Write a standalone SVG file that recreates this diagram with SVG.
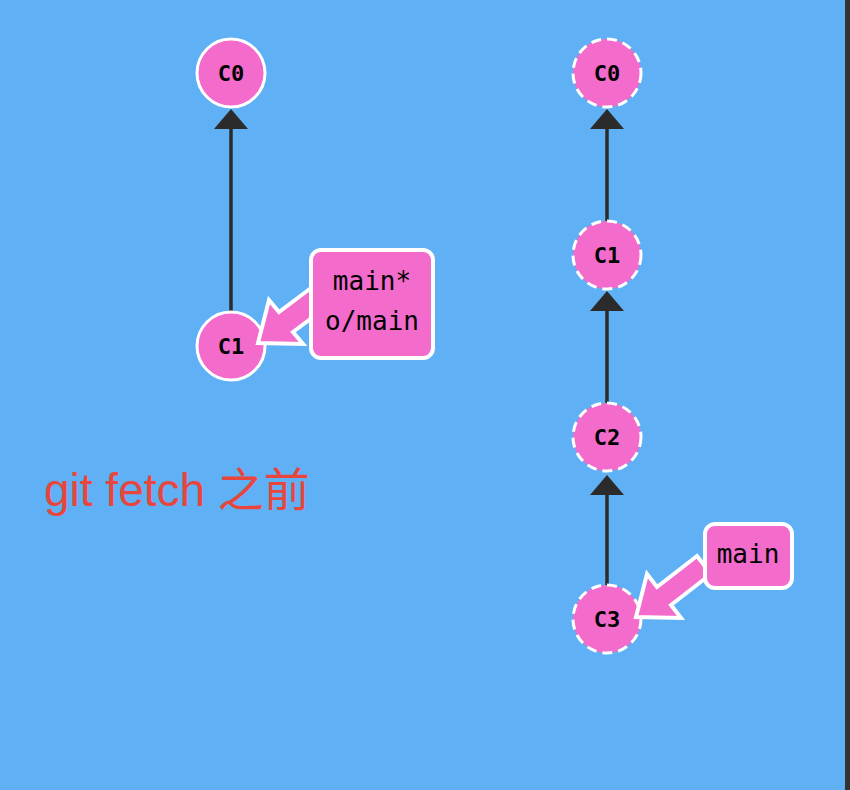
<svg xmlns="http://www.w3.org/2000/svg" width="850" height="790" viewBox="0 0 850 790">
<style>
.c{fill:#f36bcb;stroke:#fff;stroke-width:3}
.d{stroke-dasharray:10 6}
.ct{font-family:"DejaVu Sans Mono",monospace;font-weight:bold;font-size:22px;text-anchor:middle;fill:#000}
.e{stroke:#2b2b2b;stroke-width:3.5;fill:none}
.h{fill:#2b2b2b}
.b{fill:#f36bcb;stroke:#fff;stroke-width:4}
.bt{font-family:"DejaVu Sans Mono",monospace;font-size:26px;text-anchor:middle;fill:#000}
</style>
<rect width="850" height="790" fill="#5fb0f5"/>
<rect x="845" y="0" width="5" height="790" fill="#333"/>
<g id="connectors">
<line class="e" x1="231" y1="312" x2="231" y2="120"/>
<polygon class="h" points="231,109 214,129 248,129"/>
<line class="e" x1="607" y1="221" x2="607" y2="120"/>
<polygon class="h" points="607,109 590,129 624,129"/>
<line class="e" x1="607" y1="403" x2="607" y2="302"/>
<polygon class="h" points="607,291 590,311 624,311"/>
<line class="e" x1="607" y1="585" x2="607" y2="486"/>
<polygon class="h" points="607,475 590,495 624,495"/>
</g>
<g id="L_C0"><circle class="c" cx="231" cy="73" r="34"/><text class="ct" x="231" y="81">C0</text></g>
<g id="L_C1"><circle class="c" cx="231" cy="346" r="34"/><text class="ct" x="231" y="354">C1</text></g>
<g id="R_C0"><circle class="c d" cx="607" cy="73" r="34"/><text class="ct" x="607" y="81">C0</text></g>
<g id="R_C1"><circle class="c d" cx="607" cy="255" r="34"/><text class="ct" x="607" y="263">C1</text></g>
<g id="R_C2"><circle class="c d" cx="607" cy="437" r="34"/><text class="ct" x="607" y="445">C2</text></g>
<g id="R_C3"><circle class="c d" cx="607" cy="619" r="34"/><text class="ct" x="607" y="627">C3</text></g>
<g id="L_label">
<polygon class="b" points="311,288 279,312 269,300 258,343 303,344 293,332 325,308"/>
<rect class="b" x="311" y="250" width="122" height="108" rx="10"/>
<text class="bt" x="372" y="290">main*</text>
<text class="bt" x="372" y="330">o/main</text>
</g>
<g id="R_label">
<polygon class="b" points="697,556 657,587 647,574 636,617 681,618 671,605 711,574"/>
<rect class="b" x="705" y="524" width="87" height="64" rx="10"/>
<text class="bt" x="748" y="563">main</text>
</g>
<text x="44" y="506" font-family="'Liberation Sans','Noto Sans CJK SC',sans-serif" font-size="46" fill="#e8453c">git fetch 之前</text>
</svg>
